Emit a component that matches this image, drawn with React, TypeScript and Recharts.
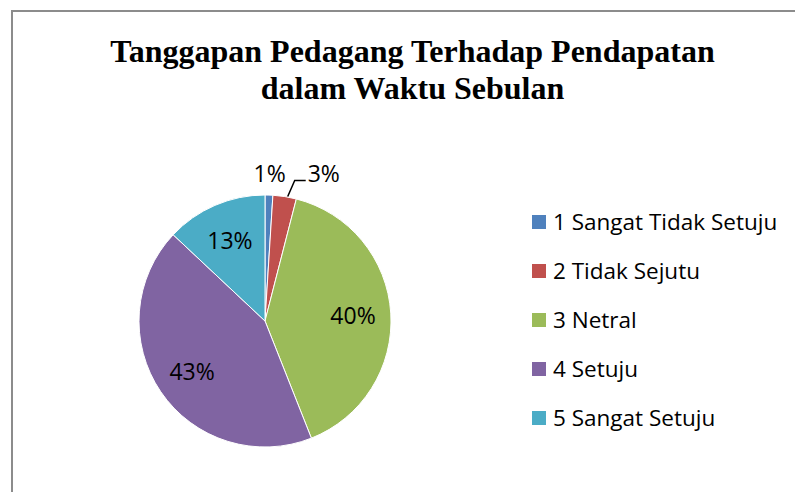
import { PieChart, Pie, Cell, Legend } from "recharts";

const categories = [
  "1 Sangat Tidak Setuju",
  "2 Tidak Sejutu",
  "3 Netral",
  "4 Setuju",
  "5 Sangat Setuju",
];
const percentages = [1, 3, 40, 43, 13];
const colors = ["#4F81BD", "#C0504D", "#9BBB59", "#8064A2", "#4BACC6"];

const data = categories.map((name, i) => ({ name, value: percentages[i] }));

const RAD = Math.PI / 180;
const labelFont = "'Open Sans', 'Noto Sans', sans-serif";

function renderLabel(props: any) {
  const { cx, cy, midAngle, outerRadius, value, index } = props;
  const cos = Math.cos(-midAngle * RAD);
  const sin = Math.sin(-midAngle * RAD);

  if (value >= 10) {
    const r = outerRadius * 0.7;
    return (
      <text
        key={"l" + index}
        x={cx + r * cos}
        y={cy + r * sin}
        textAnchor="middle"
        dominantBaseline="central"
        fill="#000"
        fontSize={23}
        fontFamily={labelFont}
      >
        {value}%
      </text>
    );
  }

  // small slices sit outside
  if (index === 0) {
    const r = outerRadius + 22;
    return (
      <text
        key={"l" + index}
        x={cx + r * cos}
        y={cy + r * sin}
        textAnchor="middle"
        dominantBaseline="central"
        fill="#000"
        fontSize={23}
        fontFamily={labelFont}
      >
        {value}%
      </text>
    );
  }

  const sx = cx + outerRadius * cos + 3;
  const sy = cy + outerRadius * sin;
  const ex = sx + 7;
  const ey = sy - 16;
  return (
    <g key={"l" + index}>
      <polyline
        points={`${sx},${sy} ${ex},${ey} ${ex + 11},${ey}`}
        fill="none"
        stroke="#000"
        strokeWidth={1.5}
      />
      <text
        x={ex + 13}
        y={ey - 8}
        textAnchor="start"
        dominantBaseline="central"
        fill="#000"
        fontSize={23}
        fontFamily={labelFont}
      >
        {value}%
      </text>
    </g>
  );
}

function renderLegend(props: any) {
  const { payload } = props;
  return (
    <div>
      {(payload || []).map((item: any, i: number) => (
        <div
          key={i}
          style={{
            height: 49,
            display: "flex",
            alignItems: "center",
            fontFamily: labelFont,
            fontSize: 22.5,
            color: "#000",
            whiteSpace: "nowrap",
          }}
        >
          <span
            style={{
              width: 14,
              height: 14,
              background: item.color,
              display: "inline-block",
              marginRight: 7,
            }}
          />
          {item.value}
        </div>
      ))}
    </div>
  );
}

export default function App() {
  return (
    <div
      style={{
        position: "absolute",
        left: 0,
        top: 0,
        width: 795,
        height: 492,
        overflow: "hidden",
        background: "#fff",
      }}
    >
      <div
        style={{
          position: "absolute",
          left: 11,
          top: 10,
          width: 800,
          height: 500,
          border: "2px solid #8c8c8c",
          boxSizing: "border-box",
        }}
      />
      <div
        style={{
          position: "absolute",
          left: 0,
          top: 33,
          width: 825,
          textAlign: "center",
          fontFamily: "'Liberation Serif', 'Times New Roman', serif",
          fontWeight: "bold",
          fontSize: 32,
          lineHeight: "37px",
          color: "#000",
        }}
      >
        Tanggapan Pedagang Terhadap Pendapatan
        <br />
        dalam Waktu Sebulan
      </div>
      <div style={{ position: "absolute", left: 0, top: 0 }}>
        <PieChart
          width={795}
          height={492}
          margin={{ top: 0, right: 0, bottom: 0, left: 0 }}
        >
          <Pie
            data={data}
            dataKey="value"
            nameKey="name"
            cx={265}
            cy={321}
            outerRadius={126}
            startAngle={90}
            endAngle={-270}
            stroke="#fff"
            strokeWidth={1}
            label={renderLabel}
            labelLine={false}
            isAnimationActive={false}
          >
            {data.map((d, i) => (
              <Cell key={d.name} fill={colors[i]} />
            ))}
          </Pie>
          <Legend
            layout="vertical"
            content={renderLegend}
            wrapperStyle={{ position: "absolute", left: 532, top: 197, width: 263 }}
          />
        </PieChart>
      </div>
    </div>
  );
}
